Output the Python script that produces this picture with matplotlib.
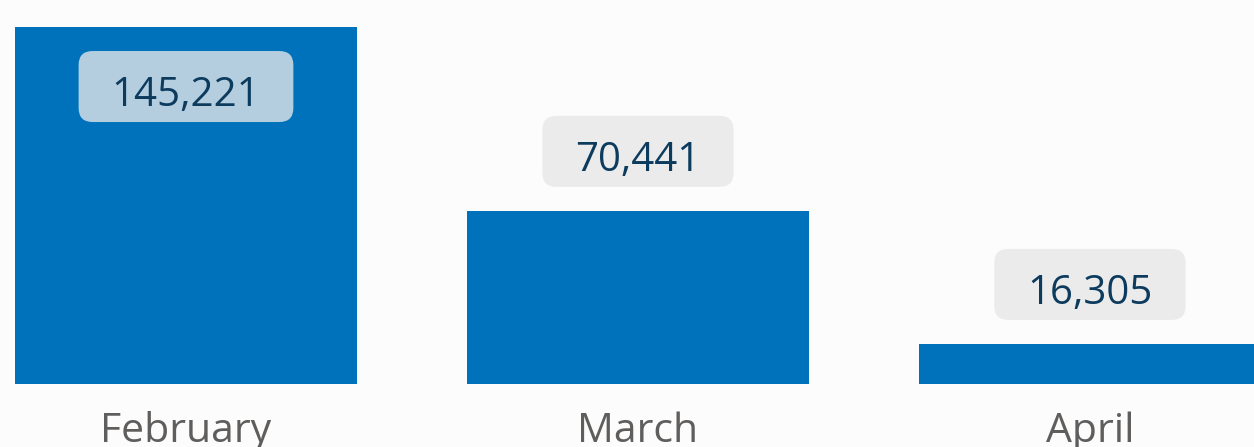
"""Monthly totals as a bar chart with rounded value badges."""

import matplotlib

matplotlib.use("Agg")
import matplotlib.pyplot as plt
from matplotlib.patches import FancyBboxPatch
from matplotlib.transforms import IdentityTransform

MONTHS = ["February", "March", "April"]
TOTALS = [145221, 70441, 16305]

BAR_COLOR = "#0072bc"
BACKGROUND = "#fcfcfc"
VALUE_COLOR = "#0d3b5e"
LABEL_COLOR = "#605e5c"
BADGE_COLOR = "#ebebeb"

plt.rcParams["font.family"] = ["Open Sans", "DejaVu Sans"]

figure = plt.figure(figsize=(12.54, 4.47), dpi=100, facecolor=BACKGROUND)
axis = figure.add_axes([0, 63 / 447, 1, 384 / 447])
axis.set_facecolor(BACKGROUND)

positions = list(range(len(MONTHS)))
axis.bar(positions, TOTALS, width=0.757, color=BAR_COLOR, zorder=2)
axis.set_xlim(-0.4115, 2.363)
axis.set_ylim(0, max(TOTALS) * 1.0757)
axis.axis("off")

# Badge geometry in pixels
badge_height = 71
badge_gap = 24
badge_pad_x = 33
axis_top_px = 384

value_texts = []
for position, total in zip(positions, TOTALS):
    bar_top_px = total / (max(TOTALS) * 1.0757) * axis_top_px
    center_offset = badge_gap + badge_height / 2
    inside = bar_top_px + badge_gap + badge_height > axis_top_px - 10
    if inside:
        center_offset = -center_offset
    text = axis.annotate(
        f"{total:,}",
        xy=(position, total),
        xytext=(0, center_offset - 19.5),
        textcoords="offset pixels",
        ha="center",
        va="baseline",
        fontsize=29,
        color=VALUE_COLOR,
        zorder=5,
    )
    value_texts.append((text, position, total, center_offset, inside))

for position, month in zip(positions, MONTHS):
    axis.annotate(
        month,
        xy=(position, 0),
        xytext=(0, -58),
        textcoords="offset pixels",
        ha="center",
        va="baseline",
        fontsize=29.5,
        color=LABEL_COLOR,
        annotation_clip=False,
    )

figure.canvas.draw()
renderer = figure.canvas.get_renderer()
for text, position, total, center_offset, inside in value_texts:
    extent = text.get_window_extent(renderer)
    anchor_x, anchor_y = axis.transData.transform((position, total))
    center_y = anchor_y + center_offset
    width = extent.width + 2 * badge_pad_x
    badge = FancyBboxPatch(
        (anchor_x - width / 2 + 14, center_y - badge_height / 2 + 14),
        width - 28,
        badge_height - 28,
        boxstyle="round,pad=14",
        facecolor=BADGE_COLOR,
        edgecolor="none",
        alpha=0.77 if inside else 1.0,
        transform=IdentityTransform(),
        zorder=4,
        clip_on=False,
    )
    axis.add_patch(badge)

figure.savefig("out.png", dpi=100, facecolor=BACKGROUND)
plt.close(figure)
